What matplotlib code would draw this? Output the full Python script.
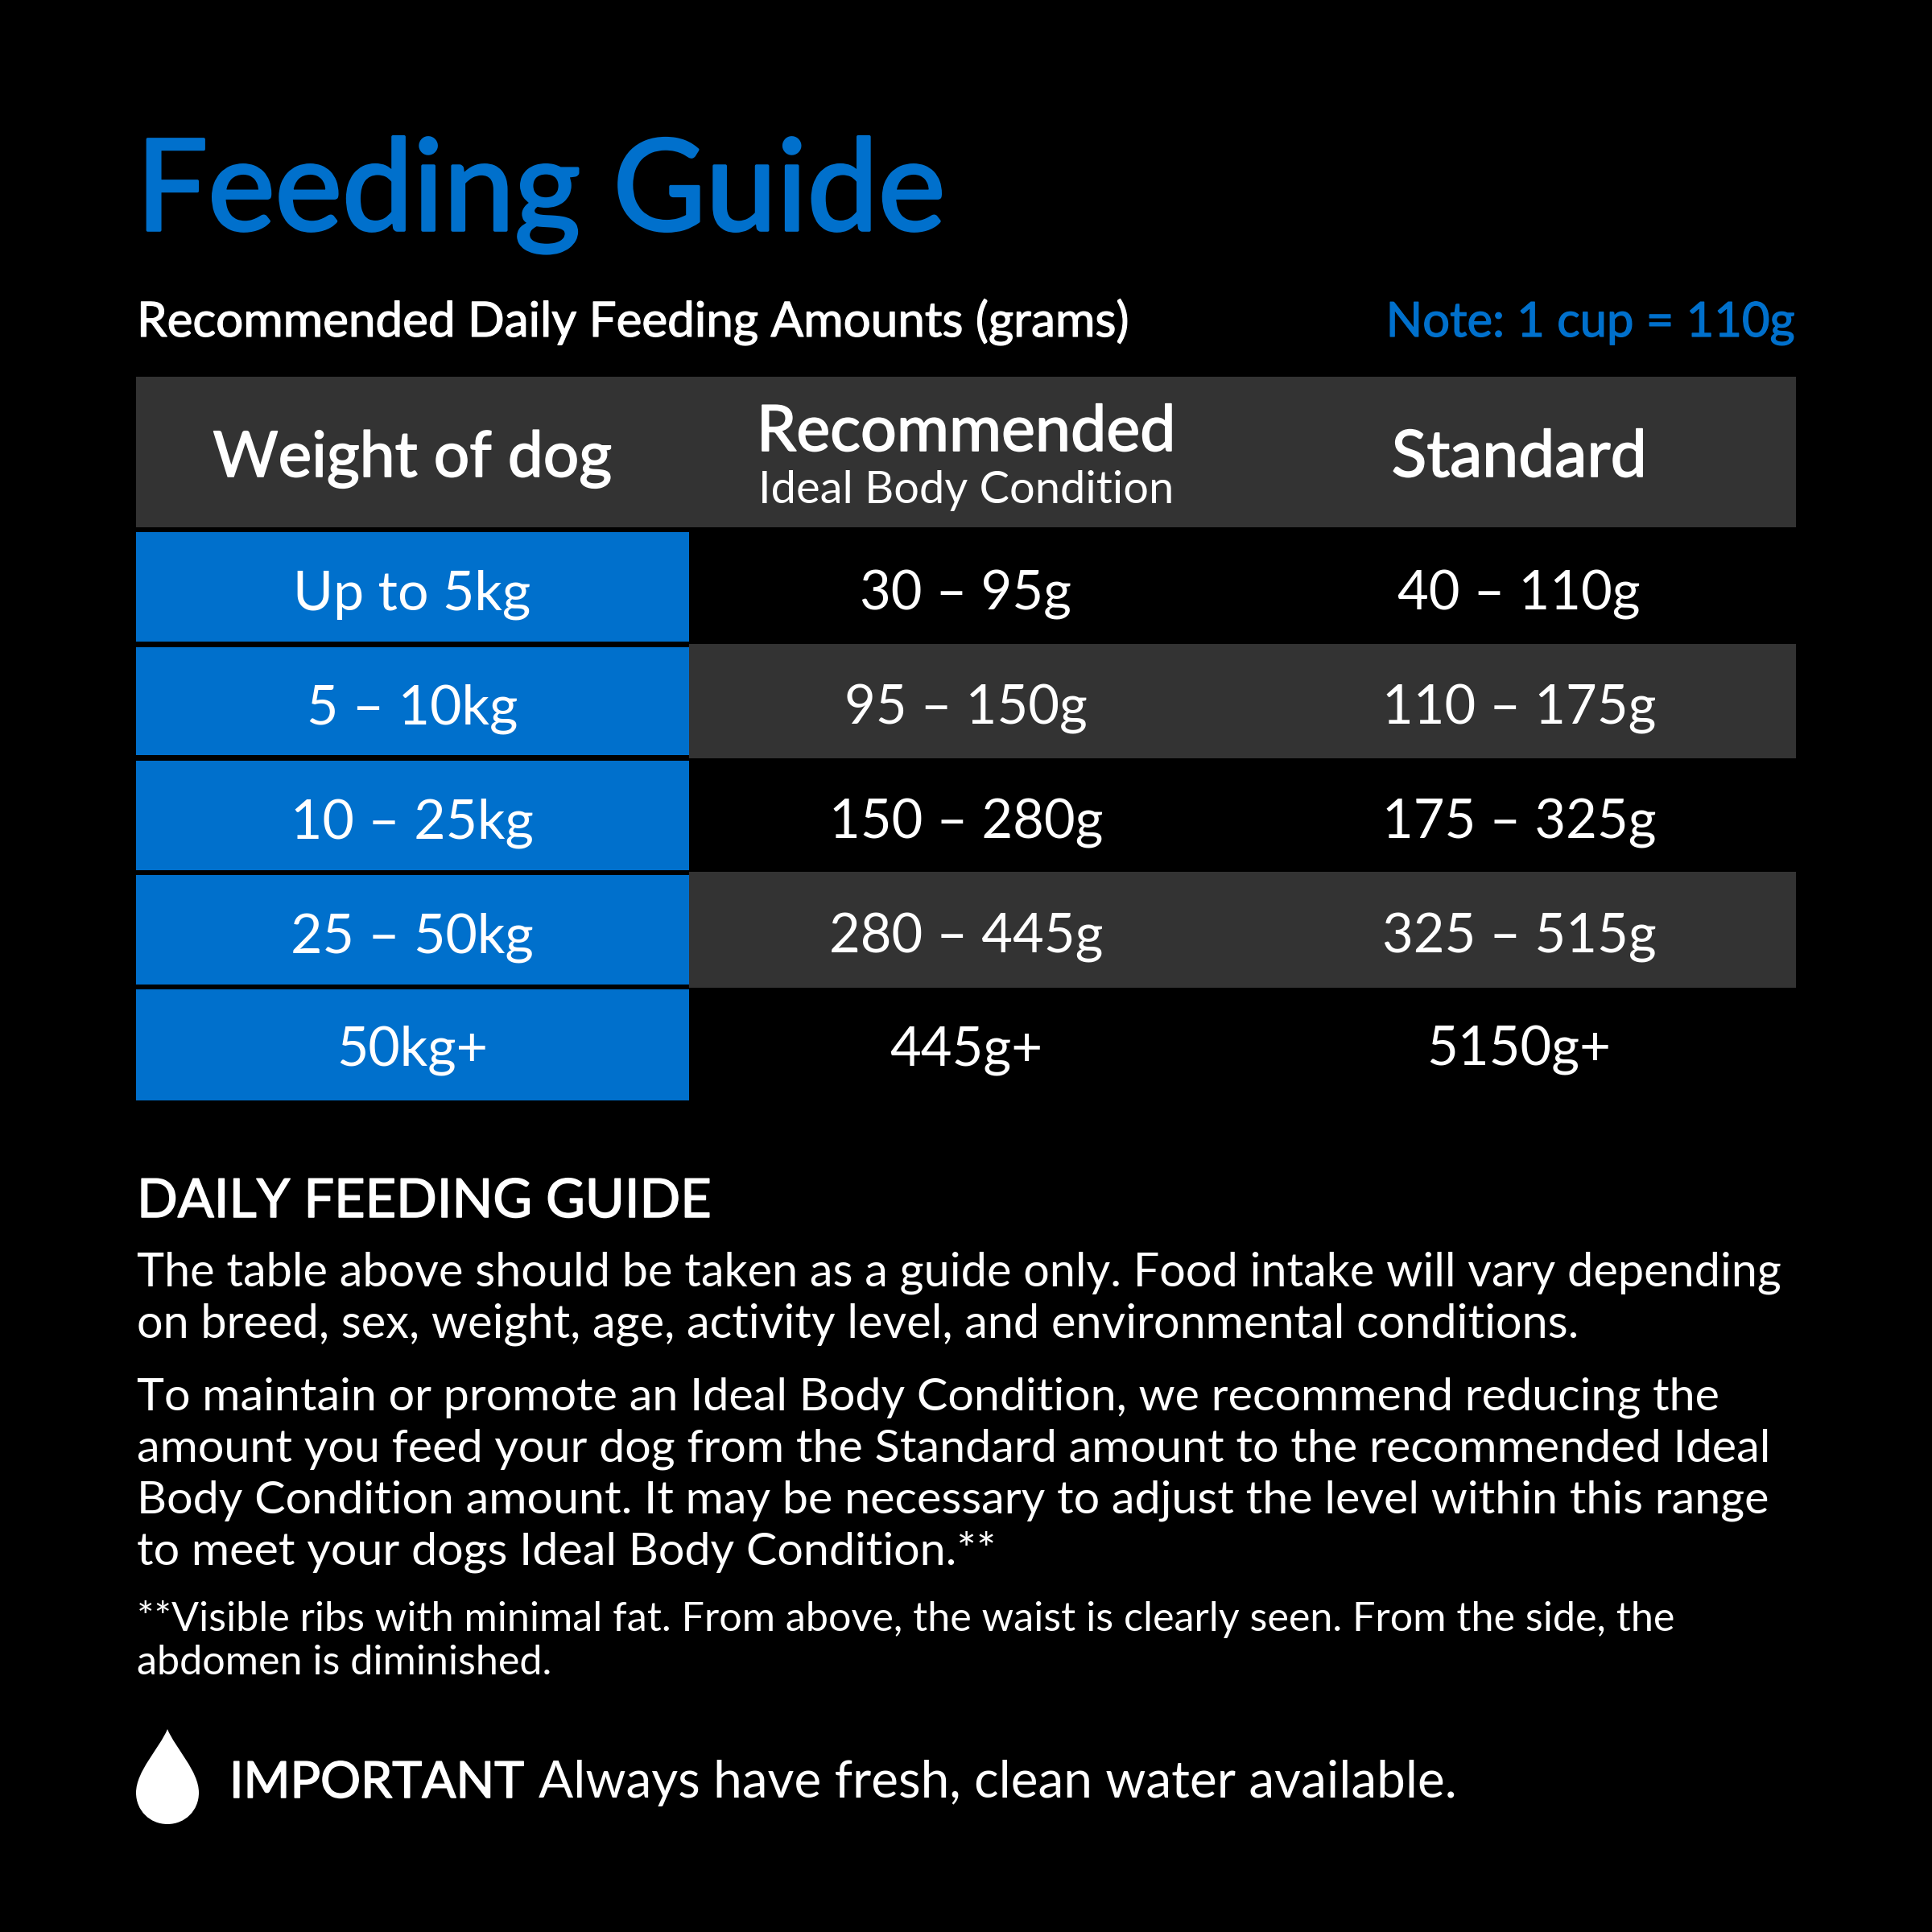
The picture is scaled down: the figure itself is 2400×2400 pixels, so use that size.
import matplotlib
matplotlib.use("Agg")
import matplotlib.pyplot as plt
import matplotlib.patheffects as pe
from matplotlib.patches import Rectangle, PathPatch
from matplotlib.path import Path

plt.rcParams["font.family"] = ["Lato", "DejaVu Sans"]

BLUE = "#0070cc"
GREY = "#333333"
WHITE = "#ffffff"

weights = ["Up to 5kg", "5 – 10kg", "10 – 25kg", "25 – 50kg", "50kg+"]
recommended = ["30 – 95g", "95 – 150g", "150 – 280g", "280 – 445g", "445g+"]
standard = ["40 – 110g", "110 – 175g", "175 – 325g", "325 – 515g", "5150g+"]

para1 = [
    "The table above should be taken as a guide only. Food intake will vary depending",
    "on breed, sex, weight, age, activity level, and environmental conditions.",
]
para2 = [
    "To maintain or promote an Ideal Body Condition, we recommend reducing the",
    "amount you feed your dog from the Standard amount to the recommended Ideal",
    "Body Condition amount. It may be necessary to adjust the level within this range",
    "to meet your dogs Ideal Body Condition.**",
]
para3 = [
    "**Visible ribs with minimal fat. From above, the waist is clearly seen. From the side, the",
    "abdomen is diminished.",
]

fig = plt.figure(figsize=(24, 24), dpi=100, facecolor="black")
ax = fig.add_axes([0, 0, 1, 1])
ax.set_xlim(0, 2400)
ax.set_ylim(2400, 0)
ax.axis("off")


def txt(x, y, s, size, color=WHITE, ha="left", stroke=0):
    t = ax.text(x, y, s, fontsize=size, color=color, ha=ha, va="baseline")
    # Lato has no medium weight here, so thicken the regular one
    if stroke:
        t.set_path_effects([pe.withStroke(linewidth=stroke, foreground=color)])


def box(x0, y0, x1, y1, color):
    ax.add_patch(Rectangle((x0, y0), x1 - x0, y1 - y0, fc=color, ec="none"))


txt(169, 286, "Feeding Guide", 113.6, BLUE, stroke=2.6)
txt(170, 418, "Recommended Daily Feeding Amounts (grams)", 43.3, stroke=0.9)
txt(2230, 418, "Note: 1 cup = 110g", 43, BLUE, ha="right", stroke=0.9)

col_x = [512, 1200, 1887]

# header row
box(169, 468, 2231, 655, GREY)
txt(col_x[0], 592, "Weight of dog", 56.5, ha="center", stroke=1.2)
txt(col_x[1], 560, "Recommended", 57, ha="center", stroke=1.2)
txt(col_x[1], 625, "Ideal Body Condition", 40.3, ha="center")
txt(col_x[2], 592, "Standard", 58, ha="center", stroke=1.2)

blue_tops = [661, 804, 945, 1087, 1229]
blue_bottoms = [797, 938, 1081, 1223, 1367]
base = [758, 899, 1041, 1183, 1324]
for i in range(len(weights)):
    box(169, blue_tops[i], 856, blue_bottoms[i], BLUE)
    if i % 2 == 1:
        box(856, blue_tops[i] - 4, 2231, blue_bottoms[i] + 4, GREY)
    txt(col_x[0], base[i], weights[i], 49, ha="center")
    txt(col_x[1], base[i], recommended[i], 48.2, ha="center")
    txt(col_x[2], base[i], standard[i], 48.2, ha="center")

txt(170, 1512, "DAILY FEEDING GUIDE", 48, stroke=1.1)
for y, s in zip([1597, 1661], para1):
    txt(170, y, s, 41.5)
for y, s in zip([1752, 1816, 1880, 1944], para2):
    txt(170, y, s, 41.4)
for y, s in zip([2026, 2080], para3):
    txt(170, y, s, 36.2)

# water drop
drop = Path(
    [(208, 2148), (198, 2172), (169, 2200), (169, 2227), (169, 2249), (186, 2266), (208, 2266),
     (230, 2266), (247, 2249), (247, 2227), (247, 2200), (218, 2172), (208, 2148)],
    [Path.MOVETO] + [Path.CURVE4] * 12,
)
ax.add_patch(PathPatch(drop, fc=WHITE, ec="none"))

txt(285, 2233, "IMPORTANT", 45, stroke=1.1)
txt(669, 2233, "Always have fresh, clean water available.", 46)

fig.savefig("out.png", dpi=100, facecolor="black")
